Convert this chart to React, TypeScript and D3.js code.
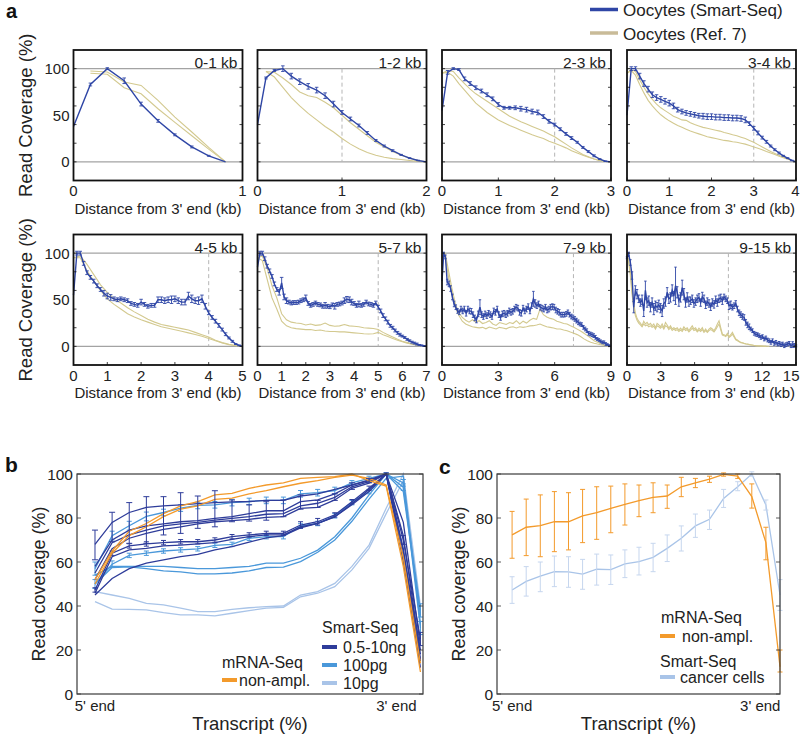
import React from "react";
import * as d3 from "d3";

const FONT = "'Liberation Sans', Arial, Helvetica, sans-serif";
const BLUE = "#2f46a6";
const TAN = "#d3c98f";
const TAN_LEG = "#c9bb98";
const DARK = "#2e3c9a";
const MED = "#4a98da";
const LIGHT = "#a9c4e8";
const ORANGE = "#f39a2b";

// ---------------- Panel a data ----------------
const aTitles = ["0-1 kb", "1-2 kb", "2-3 kb", "3-4 kb", "4-5 kb", "5-7 kb", "7-9 kb", "9-15 kb"];
const aMax = [1, 2, 3, 4, 5, 7, 9, 15];
const aDash = [null, 1, 2, 3, 4, 5, 7, 9];
const aTicks = [[0, 1], [0, 1, 2], [0, 1, 2, 3], [0, 1, 2, 3, 4], [0, 1, 2, 3, 4, 5], [0, 1, 2, 3, 4, 5, 6, 7], [0, 3, 6, 9], [0, 3, 6, 9, 12, 15]];

const blue01 = [38, 83, 100, 87, 62, 44, 29, 16, 6.5, 0];
const err01 = [0, 1.5, 1, 3, 2, 1.5, 1, 1, 0.5, 0];
const tanA01 = [97.5, 96.4, 85.6, 82, 66, 48, 32, 15.5, 0];
const tanB01 = [95, 94, 79.5, 73, 57, 42.4, 28, 13.7, 0];

const blue12 = [40, 90, 98, 100, 92, 86, 81, 77, 71, 62, 53, 46, 39, 31, 23, 17, 12, 7.5, 4, 1.5, 0];
const err12 = [0, 1, 1, 3, 3, 3, 3, 3, 3, 3, 2, 2, 1.5, 1.5, 1, 1, 1, 0.5, 0.5, 0.3, 0];
const tanA12 = [97, 96, 90, 83, 75, 71, 69, 64, 58, 50, 42, 35, 28, 21, 16, 11, 7, 4, 1.5, 0];
const tanB12 = [97, 91, 80, 69, 60, 52, 45, 38, 32, 25, 19, 14, 10, 7, 5, 3.5, 2.5, 1.5, 0.5, 0];

const blue23 = [55, 96, 100, 99, 89, 84, 79.5, 76, 72, 67.6, 61.5, 58, 58, 58, 57, 56, 54, 53, 48.6, 43.5, 40, 35, 30, 25.5, 21, 15.5, 11, 6.5, 3, 0.7, 0];
const err23 = [0, 2, 1, 1, 2, 2, 2, 2, 2, 2, 2, 1.5, 1.5, 2, 2.5, 2.5, 2.5, 2.5, 2, 2, 1.5, 1.5, 1.5, 1.5, 1, 1, 1, 1, 0.5, 0.3, 0];
const tanA23 = [95, 98, 97, 90, 84, 78, 73, 69, 65, 61, 57, 53, 49, 46, 43, 40.6, 38, 35.5, 33, 30, 27, 23, 19, 15, 11.5, 8, 5.5, 3, 1.5, 0.5, 0];
const tanB23 = [95, 96, 92, 84, 77, 70, 63, 58, 53, 49, 45, 42, 39, 36.5, 34, 31.5, 29, 27, 25, 22, 20, 17.5, 15, 12, 9.5, 7, 5, 3, 1.5, 0.5, 0];

const blue34 = [50, 100, 100, 92, 84, 78, 72, 69, 67, 65, 63, 60, 56, 54, 52.5, 51.5, 50.5, 49.5, 49, 48.5, 48.5, 48, 48, 47.5, 47.5, 47, 47, 46.5, 45, 41, 36, 31, 26, 21.5, 17, 13, 9.5, 6.5, 4, 1.5, 0];
const err34 = [0, 2, 2, 3, 3, 3, 3, 3, 3, 3, 3, 3, 2.5, 2.5, 2.5, 2.5, 2.5, 2.5, 3, 3, 3, 3, 3, 3, 3, 3, 3, 3, 3, 2, 2, 2, 1.5, 1.5, 1, 1, 1, 0.5, 0.5, 0.3, 0];
const tanA34 = [95, 99, 97, 88, 80, 73, 67, 62, 58, 55, 52, 49, 47, 45, 44.5, 42, 40, 38.5, 37, 36, 35, 34, 33, 31.5, 30.5, 29, 28, 26.5, 25, 23, 21, 18.5, 16, 13.5, 11, 9, 7, 5, 3, 1.5, 0];
const tanB34 = [95, 98, 93, 83, 74, 66, 60, 55, 50.5, 47, 44, 41.5, 39, 37, 35, 33, 31.5, 30, 28.5, 27, 26, 25, 24, 23, 22.5, 21.5, 21, 20, 19, 17.5, 16, 14.5, 13, 11, 9.5, 8, 6, 4.5, 3, 1.5, 0];

const blue45 = [55, 100, 100, 89, 79, 74, 70, 65, 61, 57, 54, 52.5, 51, 50, 51, 50, 49, 46, 45, 44, 47.5, 45, 43, 44, 44, 50, 50, 49, 50, 50, 51, 49, 47.5, 47.5, 54, 51, 49, 49, 51, 43, 36, 31, 27, 22.5, 18, 13, 9, 5.4, 2.5, 1, 0];
const err45 = [0, 2, 2, 2, 2, 2, 2, 2, 2, 3, 3, 3, 2, 2, 2, 2, 2, 2, 2, 2, 3, 2, 2, 2, 2, 3, 3, 3, 3, 4, 3, 3, 3, 3, 4, 4, 3, 4, 4, 3, 2, 2, 2, 2, 1.5, 1.5, 1, 1, 0.5, 0.5, 0];
const tanA45 = [95, 97, 88, 77, 66, 58, 51, 46.5, 41.5, 37, 33, 29, 26, 23.5, 22, 20.5, 19, 17.5, 15, 12.5, 10, 6.5, 4, 2.2, 1, 0];
const tanB45 = [95, 95, 81, 70, 60, 51, 45, 40, 35, 31.5, 28.5, 26, 23.5, 21, 19.5, 17.8, 16.2, 14.5, 12.8, 10.8, 8.5, 6, 3.6, 1.8, 0.7, 0];

const blue57 = [85, 100, 100, 94, 86, 81, 75, 67, 61, 58, 68, 53, 49, 47.5, 46.5, 47, 47, 47.5, 49, 50, 52, 46, 44, 45, 46.5, 45, 44.5, 43, 44, 43, 42.5, 44.5, 43, 45, 45.5, 46.5, 49, 50.5, 50, 47.5, 46, 44, 45.5, 44, 45, 47.5, 45.5, 45, 44, 46.5, 42, 38, 33, 29.5, 26, 22, 20, 17, 14.5, 12.5, 11, 9.5, 7.5, 6, 4.5, 3.5, 2.5, 1.5, 1, 0.4, 0];
const err57 = [0, 2, 2, 2, 2, 2, 2, 2, 2, 3, 6, 3, 3, 2, 2, 2, 2, 2, 2, 2, 3, 2, 2, 2, 2, 2, 2, 2, 3, 2, 2, 2, 3, 2, 2, 2, 3, 3, 3, 3, 2, 2, 3, 2, 2, 2, 2, 2, 2, 2, 2, 2, 2, 2, 2, 1.5, 1.5, 1.5, 1.5, 1.5, 1, 1, 1, 1, 1, 1, 1, 0.5, 0.5, 0.5, 0];
const tanA57 = [95, 97, 84, 65, 52, 35, 28.5, 26, 25, 24.5, 23, 24, 22.5, 23, 25, 22.5, 21.5, 22, 23.5, 22, 21.5, 21, 20, 19.6, 19.2, 18, 15, 12.5, 10, 7.5, 5.5, 4, 2.5, 1.5, 0.6, 0];
const tanB57 = [95, 92, 72, 52, 40, 27, 22, 20, 19, 18.5, 18, 18, 17, 17.5, 16.5, 16, 16, 15.5, 15.5, 15, 14.5, 14, 13.5, 13.2, 13.5, 15, 12.5, 10.5, 8.5, 6.5, 5, 3.5, 2.2, 1.2, 0.5, 0];

const blue79 = [70, 99, 96, 69, 67, 62, 53, 45.5, 42, 38, 36.5, 40, 38, 40, 35.5, 40, 38, 37.6, 34, 30.5, 28.3, 34.8, 42, 34, 32, 34.8, 33, 35.5, 34, 32, 38, 36.5, 40, 34, 31, 34.8, 35.5, 34, 35.5, 38, 36.5, 37.6, 40, 42, 41, 36.5, 35.5, 41, 38, 40, 42.6, 38, 43.7, 51, 46, 43.7, 45.5, 42, 41, 40, 42, 39, 40, 42, 42.6, 42, 39, 37.6, 36.5, 34, 34, 34, 34.8, 36.5, 34, 32, 31, 29.4, 27.6, 25.8, 24, 23.3, 20.4, 18.6, 16.8, 14, 13.3, 12.5, 11.5, 9.7, 7.9, 6.8, 5.4, 4.3, 4.3, 2.5, 1.8, 0.7, 0];
const err79 = [0, 2, 2, 3, 3, 3, 3, 3, 2.5, 2.5, 2.5, 3, 3, 3, 3, 3, 3, 3, 3, 3, 3, 3, 8, 3, 3, 3, 3, 3, 3, 3, 3, 3, 3, 3, 3, 3, 3, 3, 3, 3, 3, 3, 3, 3, 3, 3, 3, 3, 3, 3, 3, 3, 3, 8, 4, 3, 3, 3, 3, 3, 3, 3, 3, 3, 3, 3, 3, 3, 3, 2.5, 2.5, 2.5, 2.5, 2.5, 2.5, 2.5, 2.5, 2.5, 2.5, 2.5, 2, 2, 2, 2, 2, 2, 2, 2, 2, 2, 1.5, 1.5, 1.5, 1.5, 1.5, 1.5, 1, 1, 0];
const tanA79 = [95, 99, 80, 61, 45, 36, 31, 28, 26, 28.5, 26, 27.5, 24.5, 25.5, 27.5, 24, 22.5, 25.5, 24.5, 23.5, 25.5, 24.5, 27.5, 24, 27, 25, 28, 30, 29, 40, 34, 31.5, 30, 29, 27, 25.8, 24.6, 24, 22, 20.4, 18.5, 16.5, 14, 11.5, 9, 6, 4.3, 3, 1.8, 0.7, 0];
const tanB79 = [95, 96, 73, 55, 41, 33, 27, 24, 22.5, 21, 20.4, 19.8, 20.4, 18.8, 20.8, 19.7, 18.6, 20.4, 19.7, 18.8, 20.4, 21, 19.7, 21, 20.4, 21, 22, 22.2, 23, 24, 22.5, 21, 20.4, 19.7, 18.6, 18.6, 17.6, 16.8, 15.3, 14, 12.6, 10.5, 8, 6, 4.5, 3.3, 2.5, 1.8, 1, 0.5, 0];

const blue915 = [95, 99, 90, 76, 42, 60, 56, 51, 47, 50, 38, 60, 47, 49, 42, 47, 40, 43.6, 42, 44.6, 41, 38, 46, 48, 58, 51, 52.5, 60, 54, 65, 58, 49, 52.5, 63, 56, 47, 52.5, 48, 49, 51, 46, 48, 51, 52.5, 47, 53, 51, 44.6, 48, 46, 42.5, 47, 45, 50, 47, 51, 52, 49, 53, 51, 49, 43.6, 44.6, 42, 43.6, 46, 40, 36, 34, 32, 31, 25.7, 23, 21, 18.6, 16.8, 14, 13, 12.5, 11.4, 9.6, 10.4, 7.9, 9, 6.8, 6, 4.3, 6, 3.2, 4.3, 2.5, 3.2, 1.8, 2.5, 0.7, 1.8, 2.5, 3.2, 0.7, 2, 1, 0.5];
const err915 = [1, 2, 3, 4, 6, 5, 5, 4, 4, 5, 6, 10, 5, 5, 5, 5, 6, 5, 5, 5, 5, 6, 5, 5, 5, 5, 5, 6, 5, 20, 6, 6, 5, 8, 6, 5, 5, 5, 4, 4, 4, 4, 4, 4, 4, 5, 4, 4, 4, 4, 4, 4, 4, 4, 4, 4, 4, 4, 3, 3, 3, 4, 4, 3, 3, 3, 3, 3, 3, 3, 3, 3, 3, 3, 2, 2, 2, 2, 2, 2, 2, 2, 2, 2, 2, 2, 2, 2, 2, 2, 2, 2, 2, 2, 2, 2, 2, 2, 2, 3, 2, 1];
const tanA915 = [99, 92, 80, 60, 46, 36, 30, 27, 25, 22, 27, 24, 25.7, 23, 24.6, 22, 24, 20, 24.6, 23, 21, 24, 20, 25.7, 23, 19.6, 22, 18.6, 20, 18.6, 20, 17.5, 19.6, 17.5, 21, 18.6, 20, 16.8, 19.6, 22, 18.6, 20, 16.8, 19.6, 17.5, 20, 16, 18.6, 16, 18.6, 20, 18.6, 16.8, 20, 24, 27.5, 20, 13, 12.5, 11.4, 14, 10.4, 12.5, 15, 11.4, 7.9, 6.8, 5.4, 4.3, 3.8, 3.2, 2.8, 2.5, 2.1, 1.8, 1.4, 1, 0.8, 0.7, 0.6, 0.5, 0.4, 0.3, 0.2, 0.1, 0];
const tanB915 = [98, 90, 76, 56, 42, 33, 28, 25, 23, 21, 24, 22, 23, 21, 22, 20.5, 21.5, 18.5, 22, 21, 19.5, 21.5, 18.5, 22, 21, 18, 20, 17, 18.5, 17, 18, 16, 17.5, 16, 19, 17, 18, 15.5, 17.5, 19.5, 17, 18, 15.5, 17.5, 16, 18, 15, 17, 15, 17, 18, 17, 15.5, 18, 21, 24, 18, 12, 11.5, 10.5, 12.5, 9.5, 11, 13, 10, 7, 6, 5, 4, 3.5, 3, 2.5, 2.2, 1.8, 1.5, 1.2, 0.9, 0.7, 0.5, 0.4, 0.3, 0.2, 0.1, 0];

// per panel: series arrays, with sampling step (kb) and start (kb); step null = evenly spread to the panel max
const aBlue = [blue01, blue12, blue23, blue34, blue45, blue57, blue79, blue915];
const aErr = [err01, err12, err23, err34, err45, err57, err79, err915];
const aBlueStep = [0.1, 0.1, 0.1, 0.1, 0.1, 0.1, null, null];
const aTanA = [tanA01, tanA12, tanA23, tanA34, tanA45, tanA57, tanA79, tanA915];
const aTanB = [tanB01, tanB12, tanB23, tanB34, tanB45, tanB57, tanB79, tanB915];
const aTanStep = [0.1, 0.1, 0.1, 0.1, 0.2, 0.2, null, 15 / 101];
const aTanX0 = [0.1, 0.1, 0, 0, 0, 0, 0, 0];

// ---------------- Panel b data (20 transcript bins) ----------------
const bOrange1 = [52, 65, 74, 77.5, 82, 85.5, 87.4, 90.5, 91.2, 93.5, 95, 96, 98, 98.5, 98.8, 100, 97, 94.5, 58, 10];
const bOrange2 = [50, 64, 72, 76, 80.6, 84, 85.5, 88.5, 89, 91, 92.4, 94.2, 95.8, 97, 98.5, 99.5, 98, 95, 62, 14];
const bDark1 = [68, 78, 82.5, 84.8, 85.5, 86, 86.5, 87, 87.3, 87.5, 88, 88, 90, 91, 93, 95, 97, 100, 78, 22];
const bDark2 = [58, 70, 74.5, 76.4, 77.3, 78.3, 78.8, 79.8, 80.6, 82, 83.3, 83.3, 87.4, 88.2, 91, 95, 97.3, 100, 72, 18];
const bDark3 = [55, 68.8, 72.3, 74.5, 76.4, 77.3, 78, 79, 79.8, 80.6, 81.7, 82, 85.5, 86.7, 89.4, 94.2, 96.5, 100, 66, 15];
const bDark4 = [52, 66, 70.8, 73, 74.8, 76, 77.3, 78.3, 78.8, 79.4, 80.3, 80.6, 84.4, 84.8, 88.2, 93.5, 95.8, 100, 62, 12];
const bDark5 = [47.3, 64, 67.3, 68.2, 68.8, 69.2, 69.2, 70, 71.5, 72.3, 73, 73, 76.8, 78.3, 81.4, 87.4, 93.5, 100, 70, 25];
const bDark6 = [45.8, 62.4, 65.5, 66.2, 67.3, 67.7, 68.2, 68.8, 70.3, 71.5, 72.3, 72.3, 76, 77.6, 80.6, 86, 92, 100, 65, 20];
const bDark7 = [45, 52.5, 57, 59.5, 61, 62.4, 63.5, 65.5, 67, 69, 71, 72, 75.5, 77.5, 80.5, 86.5, 93, 100, 60, 16];
const bMed1 = [57, 72, 76.5, 80.7, 82.5, 84.5, 85.7, 86, 87, 87.5, 88, 88, 91, 91.5, 92.5, 96, 98, 100, 94, 38];
const bMed2 = [50, 59, 63, 64, 65, 65.5, 66, 67.6, 68, 70.8, 71.5, 71.5, 76.4, 77.5, 81, 87, 92, 100, 96, 30];
const bMed3 = [54, 58, 58, 58, 58, 57.5, 57, 57, 57.5, 58, 59.5, 59.5, 61.7, 65.4, 71.5, 80, 90.5, 100, 92, 36];
const bMed4 = [50, 57.5, 57.8, 57, 56, 55.5, 54.6, 54.6, 55, 56, 57.5, 57.7, 60.2, 64.4, 70, 78.5, 88.6, 98, 99, 32];
const bLight1 = [46.5, 45, 43.5, 41.2, 40.5, 39, 37.4, 37.4, 38.5, 39.2, 39.7, 40, 45, 46.5, 50.3, 58, 67.7, 84.4, 100, 40];
const bLight2 = [42, 38.6, 38.5, 38.2, 37, 36, 36, 35.5, 36.7, 37.9, 39, 39.4, 44.2, 45.8, 48.8, 56.4, 66.2, 82, 97, 35];
const bMed1Err = [3, 2, 2, 2, 1.5, 1.5, 1.5, 1.5, 1.5, 1.5, 1.5, 1.5, 1.5, 1.5, 1.5, 1, 1, 0.5, 1.5, 3];
const bMed2Err = [2, 1.5, 1, 1, 1, 1, 1, 1, 1, 1, 1, 1, 1, 1, 1, 1, 1, 0.5, 1.5, 3];
const bDark5Err = [1, 1, 1, 1, 1, 1, 1, 1, 1, 1, 1, 1, 1.5, 1.5, 1, 1, 1, 0.5, 2, 3];
const bDarkBarLo = [61, 69.2, 68.5, 68.5, 72.3, 73, 75.3, 76, 78.3, 78.6, 79, 80.6, 84, 84.8, 88, 93, 96];
const bDarkBarHi = [74.5, 82.6, 87, 89.7, 89.7, 91.5, 90, 92.4, 88.2, 86, 87.4, 88.2, 90.5, 88, 91, 96, 98];

// ---------------- Panel c data ----------------
const cOrange = [72.3, 75.8, 76.5, 78.3, 78.3, 81, 82.4, 84.4, 86.2, 87.9, 89.4, 90, 94.2, 96, 97.7, 99.8, 99, 89.7, 68.8, 12.4];
const cOrangeLo = [61.7, 62.9, 62.4, 64.7, 65.5, 68.8, 70.3, 73.3, 76.8, 80.6, 82.4, 84.4, 89.7, 93.8, 96.2, 99, 98, 84.5, 61, 10];
const cOrangeHi = [83, 88.6, 90.5, 92, 91.5, 93, 94.2, 94.5, 95.5, 95, 96, 95, 98.5, 98, 99, 100.5, 100, 95.5, 75.8, 20];
const cCancer = [47.3, 51.2, 53.6, 55.6, 55.5, 54.5, 56.7, 56.5, 59.1, 60.2, 62.1, 66.2, 70.8, 76.4, 79.4, 88.9, 94.2, 100, 85.9, 45];
const cCancerLo = [41.2, 44.5, 46.5, 48.8, 48.5, 47.6, 49.5, 49.8, 52.9, 54.1, 55.6, 60.2, 65, 71.2, 74.8, 84.8, 92.4, 99, 83.6, 38];
const cCancerHi = [53.3, 57.9, 60, 62.7, 62.4, 61.2, 63.6, 63.2, 65.5, 66.7, 68.5, 72.3, 76.4, 81.8, 83.6, 93, 96.5, 101, 88.2, 52];

const yTicksBC = [0, 20, 40, 60, 80, 100];

type Pt = [number, number];

function ErrBar({ x, y1, y2, color, w = 3, sw = 1 }: any) {
  return (
    <g stroke={color} strokeWidth={sw}>
      <line x1={x} x2={x} y1={y1} y2={y2} />
      <line x1={x - w / 2} x2={x + w / 2} y1={y1} y2={y1} />
      <line x1={x - w / 2} x2={x + w / 2} y1={y2} y2={y2} />
    </g>
  );
}

function PanelA({ i, left, top, showY }: any) {
  const W = 169, H = 130.5;
  const max = aMax[i];
  const x = d3.scaleLinear().domain([0, max]).range([left, left + W]);
  const y = d3.scaleLinear().domain([-20, 120]).range([top + H, top]);
  const line = d3.line<Pt>().x((d) => x(d[0])).y((d) => y(d[1]));
  const toPts = (vals: number[], step: number | null, x0: number): Pt[] => {
    const s = step == null ? (max - x0) / (vals.length - 1) : step;
    return vals.map((v, k) => [x0 + k * s, v] as Pt);
  };
  const blue = toPts(aBlue[i], aBlueStep[i], 0);
  const err = aErr[i];
  const tA = toPts(aTanA[i], aTanStep[i], aTanX0[i]);
  const tB = toPts(aTanB[i], aTanStep[i], aTanX0[i]);
  const dash = aDash[i];
  const capW = i >= 6 ? 2.5 : 3.5;
  return (
    <g>
      <line x1={left} x2={left + W} y1={y(100)} y2={y(100)} stroke="#a3a3a3" strokeWidth={1.4} />
      <line x1={left} x2={left + W} y1={y(0)} y2={y(0)} stroke="#a3a3a3" strokeWidth={1.4} />
      {dash != null && (
        <line x1={x(dash)} x2={x(dash)} y1={y(100)} y2={y(0)} stroke="#b5b5b5" strokeWidth={1} strokeDasharray="4,3" />
      )}
      <path d={line(tA) || ""} fill="none" stroke={TAN} strokeWidth={1.1} />
      <path d={line(tB) || ""} fill="none" stroke={TAN} strokeWidth={1.1} />
      <path d={line(blue) || ""} fill="none" stroke={BLUE} strokeWidth={1.4} />
      {blue.map((d, k) =>
        err[k] ? (
          <ErrBar key={k} x={x(d[0])} y1={y(d[1] - err[k])} y2={y(d[1] + err[k])} color={BLUE} w={capW} sw={0.9} />
        ) : null
      )}
      <rect x={left} y={top} width={W} height={H} fill="none" stroke="#111" strokeWidth={1.8} />
      {[0, 20, 40, 60, 80, 100].map((t) => (
        <g key={t} stroke="#111" strokeWidth={0.8}>
          <line x1={left} x2={left + 3} y1={y(t)} y2={y(t)} />
          <line x1={left + W - 3} x2={left + W} y1={y(t)} y2={y(t)} />
        </g>
      ))}
      {aTicks[i].map((t) => {
        const tx = x(t);
        const overflow = tx + 9 > 800;
        return (
          <g key={t}>
            <line x1={tx} x2={tx} y1={top + H} y2={top + H - 3} stroke="#111" strokeWidth={0.8} />
            <text x={overflow ? 799.5 : tx} y={top + H + 15.5} textAnchor={overflow ? "end" : "middle"} fontSize={15} fontFamily={FONT} fill="#222">{t}</text>
          </g>
        );
      })}
      <text x={left + W - 5} y={top + 18} textAnchor="end" fontSize={15.5} fontFamily={FONT} fill="#222">{aTitles[i]}</text>
      <text x={left + W / 2} y={top + H + 33} textAnchor="middle" fontSize={15} fontFamily={FONT} fill="#222">Distance from 3' end (kb)</text>
      {showY && (
        <g>
          {[0, 50, 100].map((t) => (
            <text key={t} x={left - 4} y={y(t) + 5.5} textAnchor="end" fontSize={15} fontFamily={FONT} fill="#222">{t}</text>
          ))}
          <text transform={`translate(${left - 42},${top + H / 2}) rotate(-90)`} textAnchor="middle" fontSize={18.5} fontFamily={FONT} fill="#222">Read Coverage (%)</text>
        </g>
      )}
    </g>
  );
}

function BCAxes({ x, y, left, right, top, bottom }: any) {
  return (
    <g>
      {yTicksBC.map((t) => (
        <g key={t}>
          <line x1={left} x2={left + 4} y1={y(t)} y2={y(t)} stroke="#333" strokeWidth={0.8} />
          <line x1={right - 4} x2={right} y1={y(t)} y2={y(t)} stroke="#333" strokeWidth={0.8} />
          <text x={left - 4} y={y(t) + 5.5} textAnchor="end" fontSize={15.5} fontFamily={FONT} fill="#222">{t}</text>
        </g>
      ))}
      <rect x={left} y={top} width={right - left} height={bottom - top} fill="none" stroke="#3a3a3a" strokeWidth={1.2} />
      <text x={x(0)} y={bottom + 17} textAnchor="middle" fontSize={15} fontFamily={FONT} fill="#222">5' end</text>
      <text x={x(17.6)} y={bottom + 17} textAnchor="middle" fontSize={15} fontFamily={FONT} fill="#222">3' end</text>
      <text x={(left + right) / 2} y={bottom + 36} textAnchor="middle" fontSize={18.5} fontFamily={FONT} fill="#222">Transcript (%)</text>
      <text transform={`translate(${left - 32},${(top + bottom) / 2}) rotate(-90)`} textAnchor="middle" fontSize={18} fontFamily={FONT} fill="#222">Read coverage (%)</text>
    </g>
  );
}

function PanelB() {
  const left = 77, right = 423, top = 474, bottom = 694;
  const x = d3.scaleLinear().domain([-1.05, 19.15]).range([left, right]);
  const y = d3.scaleLinear().domain([0, 100]).range([bottom, top]);
  const line = d3.line<number>().x((_, k) => x(k)).y((d) => y(d));
  const series: { v: number[]; c: string; e?: number[] }[] = [
    { v: bLight1, c: LIGHT },
    { v: bLight2, c: LIGHT },
    { v: bMed3, c: MED },
    { v: bMed4, c: MED },
    { v: bMed2, c: MED, e: bMed2Err },
    { v: bMed1, c: MED, e: bMed1Err },
    { v: bDark7, c: DARK },
    { v: bDark6, c: DARK },
    { v: bDark5, c: DARK, e: bDark5Err },
    { v: bDark4, c: DARK },
    { v: bDark3, c: DARK },
    { v: bDark2, c: DARK },
    { v: bDark1, c: DARK },
    { v: bOrange2, c: ORANGE },
    { v: bOrange1, c: ORANGE },
  ];
  return (
    <g>
      {series.map((s, k) => (
        <g key={k}>
          <path d={line(s.v) || ""} fill="none" stroke={s.c} strokeWidth={1.3} />
          {s.e && s.v.map((v, j) => (
            <ErrBar key={j} x={x(j)} y1={y(v - s.e![j])} y2={y(v + s.e![j])} color={s.c} w={5} sw={1} />
          ))}
        </g>
      ))}
      {bDarkBarLo.map((lo, j) => (
        <ErrBar key={"d" + j} x={x(j)} y1={y(lo)} y2={y(bDarkBarHi[j])} color={DARK} w={6} sw={1} />
      ))}
      <BCAxes x={x} y={y} left={left} right={right} top={top} bottom={bottom} />
      <text x={5} y={472} fontSize={21} fontWeight="bold" fontFamily={FONT} fill="#111">b</text>
      {/* legend */}
      <text x={322} y={633} fontSize={16} fontFamily={FONT} fill="#222">Smart-Seq</text>
      <line x1={322} x2={337} y1={647} y2={647} stroke={DARK} strokeWidth={4} />
      <text x={343} y={652.5} fontSize={16} fontFamily={FONT} fill="#222">0.5-10ng</text>
      <line x1={322} x2={337} y1={665} y2={665} stroke={MED} strokeWidth={4} />
      <text x={343} y={670.5} fontSize={16} fontFamily={FONT} fill="#222">100pg</text>
      <line x1={322} x2={337} y1={683} y2={683} stroke={LIGHT} strokeWidth={4} />
      <text x={343} y={688.5} fontSize={16} fontFamily={FONT} fill="#222">10pg</text>
      <text x={222} y={668} fontSize={16} fontFamily={FONT} fill="#222">mRNA-Seq</text>
      <line x1={222} x2={237} y1={680} y2={680} stroke={ORANGE} strokeWidth={4} />
      <text x={239} y={685.5} fontSize={16} fontFamily={FONT} fill="#222">non-ampl.</text>
    </g>
  );
}

function PanelC() {
  const left = 497, right = 780, top = 474, bottom = 694;
  const x = d3.scaleLinear().domain([-1.07, 19]).range([left, right]);
  const y = d3.scaleLinear().domain([0, 100]).range([bottom, top]);
  const line = d3.line<number>().x((_, k) => x(k)).y((d) => y(d));
  return (
    <g>
      <path d={line(cCancer) || ""} fill="none" stroke={LIGHT} strokeWidth={1.3} />
      {cCancer.map((_, j) => (
        <ErrBar key={"c" + j} x={x(j)} y1={y(cCancerLo[j])} y2={y(cCancerHi[j])} color={"#c6d6ee"} w={5} sw={1} />
      ))}
      <path d={line(cOrange) || ""} fill="none" stroke={ORANGE} strokeWidth={1.3} />
      {cOrange.map((_, j) => (
        <ErrBar key={"o" + j} x={x(j)} y1={y(cOrangeLo[j])} y2={y(cOrangeHi[j])} color={ORANGE} w={5} sw={1} />
      ))}
      <BCAxes x={x} y={y} left={left} right={right} top={top} bottom={bottom} />
      <text x={439} y={474} fontSize={21} fontWeight="bold" fontFamily={FONT} fill="#111">c</text>
      <text x={661} y={623} fontSize={16} fontFamily={FONT} fill="#222">mRNA-Seq</text>
      <line x1={660} x2={675} y1={636} y2={636} stroke={ORANGE} strokeWidth={4} />
      <text x={682} y={642} fontSize={16} fontFamily={FONT} fill="#222">non-ampl.</text>
      <text x={660} y={667} fontSize={16} fontFamily={FONT} fill="#222">Smart-Seq</text>
      <line x1={660} x2={675} y1={677} y2={677} stroke={LIGHT} strokeWidth={4} />
      <text x={680} y={683} fontSize={16} fontFamily={FONT} fill="#222">cancer cells</text>
    </g>
  );
}

export default function App() {
  const lefts = [73.5, 257.5, 442, 627];
  const tops = [50, 234.5];
  return (
    <svg width={800} height={737} viewBox="0 0 800 737" style={{ display: "block", position: "absolute", left: 0, top: 0, background: "#fff" }}>
      <rect width={800} height={737} fill="#fff" />
      <text x={6} y={18} fontSize={20} fontWeight="bold" fontFamily={FONT} fill="#111">a</text>
      <line x1={590} x2={618} y1={9.5} y2={9.5} stroke={BLUE} strokeWidth={3.5} />
      <text x={623} y={16} fontSize={17} fontFamily={FONT} fill="#222">Oocytes (Smart-Seq)</text>
      <line x1={590} x2={618} y1={33} y2={33} stroke={TAN_LEG} strokeWidth={3.5} />
      <text x={623} y={39.5} fontSize={17} fontFamily={FONT} fill="#222">Oocytes (Ref. 7)</text>
      {aTitles.map((_, i) => (
        <PanelA key={i} i={i} left={lefts[i % 4]} top={tops[Math.floor(i / 4)]} showY={i % 4 === 0} />
      ))}
      <PanelB />
      <PanelC />
    </svg>
  );
}
